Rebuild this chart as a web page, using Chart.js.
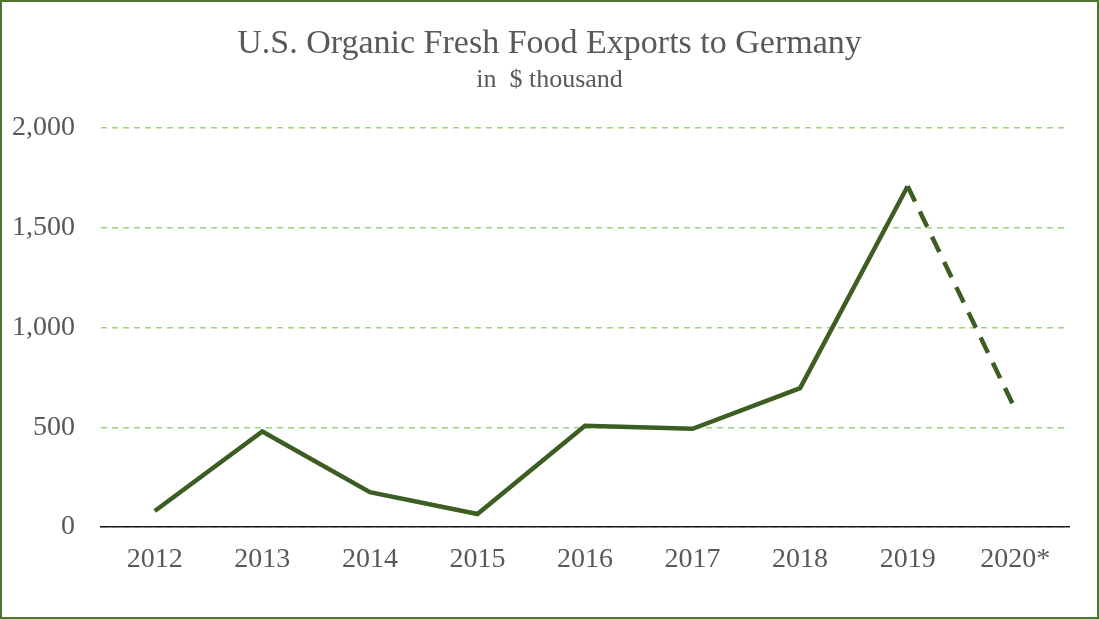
<!DOCTYPE html>
<html>
<head>
<meta charset="utf-8">
<script src="https://cdn.jsdelivr.net/npm/chart.js@4.4.0/dist/chart.umd.min.js"></script>
<style>
  html, body { margin: 0; padding: 0; background: #fff; }
  #frame {
    width: 1099px; height: 619px; box-sizing: border-box;
    border: 2px solid #4f7330; background: #fff;
  }
  #wrap { position: relative; width: 1095px; height: 615px; }
</style>
</head>
<body>
<div id="frame"><div id="wrap"><canvas id="exportsChart"></canvas></div></div>
<script>
// --- data ---
const years = ['2012', '2013', '2014', '2015', '2016', '2017', '2018', '2019', '2020*'];
const exportsK = [80, 479, 175, 65, 508, 492, 696, 1708, 590];
const yTicks = [0, 500, 1000, 1500, 2000];

const lineGreen = '#3c5e22';
const gridGreen = '#9bd47a';
const textGray = '#595959';
const serif = "'Liberation Serif', 'Times New Roman', serif";

const ctx = document.getElementById('exportsChart');
new Chart(ctx, {
    type: 'line',
    data: {
        labels: years,
        datasets: [{
            label: 'Exports',
            data: exportsK,
            borderColor: lineGreen,
            borderWidth: 4.5,
            borderCapStyle: 'butt',
            borderJoinStyle: 'miter',
            pointRadius: 0,
            pointHoverRadius: 0,
            tension: 0,
            segment: {
                // last year is an estimate -> dashed
                borderDash: c => c.p1DataIndex === years.length - 1 ? [17, 11] : undefined
            }
        }]
    },
    options: {
        responsive: true,
        maintainAspectRatio: false,
        animation: false,
        layout: { padding: { left: 0, right: 0, top: 0, bottom: 40 } },
        plugins: {
            legend: { display: false },
            tooltip: { enabled: false },
            title: {
                display: true,
                text: 'U.S. Organic Fresh Food Exports to Germany',
                color: textGray,
                font: { family: serif, size: 34, weight: 'normal' },
                padding: { top: 22, bottom: 0 }
            },
            subtitle: {
                display: true,
                text: 'in  $ thousand',
                color: textGray,
                font: { family: serif, size: 26, weight: 'normal' },
                padding: { top: 0, bottom: 32 }
            }
        },
        scales: {
            x: {
                offset: true,
                grid: { display: false, drawTicks: false },
                border: { display: true, color: '#1a1a1a', width: 1.5 },
                ticks: {
                    color: textGray,
                    padding: 16,
                    maxRotation: 0,
                    autoSkip: false,
                    font: { family: serif, size: 28 }
                },
                afterFit: s => { s.height = 50; }
            },
            y: {
                min: yTicks[0],
                max: yTicks[yTicks.length - 1],
                afterBuildTicks: s => { s.ticks = yTicks.map(v => ({ value: v })); },
                grid: {
                    drawTicks: false,
                    color: gridGreen,
                    lineWidth: 1.5
                },
                border: { display: false, dash: [6, 5] },
                ticks: {
                    color: textGray,
                    padding: 26,
                    font: { family: serif, size: 28 },
                    callback: v => Number(v).toLocaleString('en-US')
                },
                afterFit: s => { s.width = 99; }
            },
            // empty right-hand spacer so the plot ends where the reference does
            // while the titles stay centred on the whole frame
            spacer: {
                type: 'linear',
                position: 'right',
                display: true,
                grid: { display: false, drawTicks: false },
                border: { display: false },
                ticks: { display: false },
                afterFit: s => { s.width = 28; }
            }
        }
    }
});
</script>
</body>
</html>
